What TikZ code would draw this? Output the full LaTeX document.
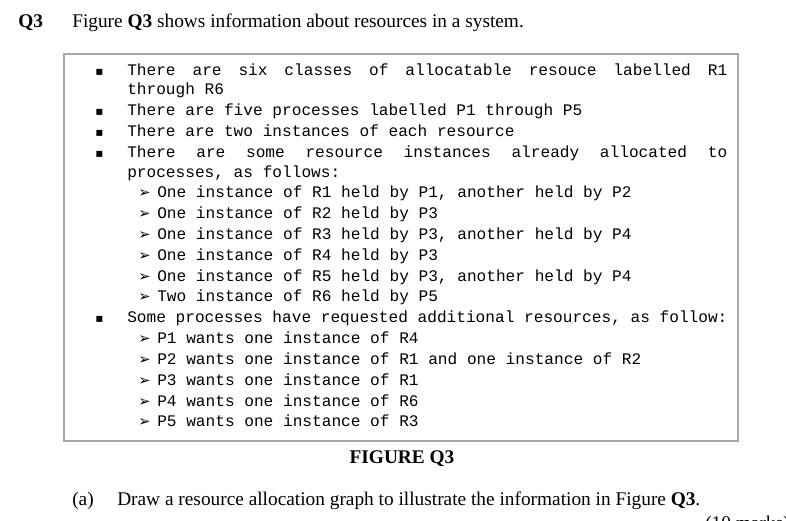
\documentclass[tikz,border=0pt]{standalone}
\usepackage{fontspec}
\setmainfont{Liberation Serif}
\setmonofont{Liberation Mono}
\newfontfamily\djv{DejaVu Sans}
\newcommand{\justline}[1]{\makebox[450pt][s]{\spaceskip=0.6em plus 1fil\relax #1}}
\begin{document}
\begin{tikzpicture}[x=0.75pt,y=-0.75pt,
  txt/.style={anchor=base west,inner sep=0pt,font=\fontsize{14.5pt}{17pt}\selectfont},
  mono/.style={anchor=base west,inner sep=0pt,font=\fontsize{12.1pt}{14pt}\ttfamily},
  bul/.style={anchor=base west,inner sep=0pt,font=\fontsize{9pt}{10pt}\djv},
  arr/.style={anchor=base west,inner sep=0pt,font=\fontsize{11pt}{12pt}\djv}]
\useasboundingbox (0,0) rectangle (786,521);
\node[txt,font=\fontsize{14.5pt}{17pt}\selectfont\bfseries] (q3) at (18,27) {Q3};
\node[txt] (intro) at (72,27) {Figure \textbf{Q3} shows information about resources in a system.};
\draw[line width=1.1pt,gray!70] (64,54) rectangle (738,441);
% bullets
\foreach \y/\n in {75/b1,115/b2,136/b3,157/b4,322/b5}
  \node[bul] (\n) at (95,\y) {▪};
\node[mono] (l1) at (127,75) {\justline{There are six classes of allocatable resouce labelled R1}};
\node[mono] (l2) at (127,94) {through R6};
\node[mono] (l3) at (127,115) {There are five processes labelled P1 through P5};
\node[mono] (l4) at (127,136) {There are two instances of each resource};
\node[mono] (l5) at (127,157) {\justline{There are some resource instances already allocated to}};
\node[mono] (l6) at (127,177) {processes, as follows:};
\foreach \y/\t [count=\i] in {
  197/{One instance of R1 held by P1, another held by P2},
  218/{One instance of R2 held by P3},
  239/{One instance of R3 held by P3, another held by P4},
  260/{One instance of R4 held by P3},
  281/{One instance of R5 held by P3, another held by P4},
  301/{Two instance of R6 held by P5},
  343/{P1 wants one instance of R4},
  364/{P2 wants one instance of R1 and one instance of R2},
  385/{P3 wants one instance of R1},
  406/{P4 wants one instance of R6},
  426/{P5 wants one instance of R3}}{
  \node[arr] (a\i) at (138,\y) {➢};
  \node[mono] (s\i) at (157,\y) {\t};
}
\node[mono] (l7) at (127,322) {Some processes have requested additional resources, as follow:};
\node[anchor=base,inner sep=0pt,font=\fontsize{14.5pt}{17pt}\selectfont\bfseries] (fig) at (402,463) {FIGURE Q3};
\node[txt] (a) at (72,505) {(a)};
\node[txt] (qa) at (117,505) {Draw a resource allocation graph to illustrate the information in Figure \textbf{Q3}.};
\node[txt] (marks) at (705,529) {(10 marks)};
\end{tikzpicture}
\end{document}
